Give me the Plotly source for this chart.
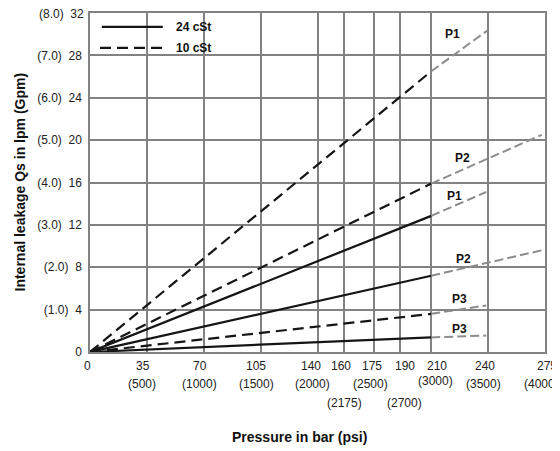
import numpy as np
import plotly.graph_objects as go

# ---- axis data ----
tick_bar = [0, 35, 70, 105, 140, 160, 175, 190, 210, 240, 275]
tick_pos = [0, 1, 2, 3, 4, 4.47, 5, 5.45, 6, 7, 8]          # non-linear scale of the chart
tick_psi = ["", "(500)", "(1000)", "(1500)", "(2000)", "(2175)", "(2500)", "(2700)",
            "(3000)", "(3500)", "(4000)"]
psi_row = [1, 1, 1, 1, 1, 2, 1, 2, 1, 1, 1]

y_lpm = [0, 4, 8, 12, 16, 20, 24, 28, 32]
y_gpm = ["", "(1.0)", "(2.0)", "(3.0)", "(4.0)", "(5.0)", "(6.0)", "(7.0)", "(8.0)"]

# ---- series (pressure bar, leakage lpm) ----
rated_p = [0, 210]
q_10_p1 = [0, 26.5]
q_10_p2 = [0, 15.9]
q_24_p1 = [0, 12.85]
q_24_p2 = [0, 7.2]
q_10_p3 = [0, 3.6]
q_24_p3 = [0, 1.38]

ext_10_p1_p, ext_10_p1_q = [210, 240], [26.5, 30.4]
ext_10_p2_p, ext_10_p2_q = [210, 273], [15.9, 20.5]
ext_24_p1_p, ext_24_p1_q = [210, 239], [12.85, 15.1]
ext_24_p2_p, ext_24_p2_q = [210, 273], [7.2, 9.6]
ext_10_p3_p, ext_10_p3_q = [210, 239], [3.6, 4.4]
ext_24_p3_p, ext_24_p3_q = [210, 239], [1.38, 1.55]

label_text = ["P1", "P2", "P1", "P2", "P3", "P3"]
label_p = [221, 226.5, 222, 227, 225, 225]
label_q = [30.0, 18.3, 14.7, 8.8, 5.0, 2.2]

# small horizontal nudges (px) of the x tick texts, as typeset in the original
bar_nudge = [-3, -4, -4, -5, -7, -3, -2, 5, 6, -3, 2]
psi_nudge = [0, -5, -4, -4, -5, 0, -4, 5, 4, -5, -4]


def pos(p):
    return np.interp(p, tick_bar, tick_pos)


BLACK = "#151515"
GRAY = "#8c8c8c"
GRID = "#828282"
FONT = "Liberation Sans, Arial, sans-serif"
TICKFONT = dict(family=FONT, size=12, color="#222")

fig = go.Figure()

main = [(q_10_p1, "10"), (q_10_p2, "10"), (q_24_p1, "24"),
        (q_24_p2, "24"), (q_10_p3, "10"), (q_24_p3, "24")]
for q, v in main:
    fig.add_trace(go.Scatter(
        x=pos(rated_p), y=q, mode="lines", showlegend=False, hoverinfo="skip",
        line=dict(color=BLACK, width=2.2, dash="11px,6px" if v == "10" else "solid")))

exts = [(ext_10_p1_p, ext_10_p1_q), (ext_10_p2_p, ext_10_p2_q), (ext_24_p1_p, ext_24_p1_q),
        (ext_24_p2_p, ext_24_p2_q), (ext_10_p3_p, ext_10_p3_q), (ext_24_p3_p, ext_24_p3_q)]
for p, q in exts:
    fig.add_trace(go.Scatter(
        x=pos(p), y=q, mode="lines", showlegend=False, hoverinfo="skip",
        line=dict(color=GRAY, width=2, dash="9px,4px")))

for t, p, q in zip(label_text, label_p, label_q):
    fig.add_annotation(x=float(pos(p)), y=q, text="<b>%s</b>" % t, showarrow=False,
                       font=dict(family=FONT, size=12, color="#111"))

# x tick texts: bar row and psi rows
for p, b, s, r, nb, ns in zip(tick_bar, tick_bar, tick_psi, psi_row, bar_nudge, psi_nudge):
    fig.add_annotation(x=float(pos(p)), xref="x", y=0, yref="paper",
                       xshift=nb, yshift=-14, yanchor="middle",
                       text=str(b), showarrow=False, font=TICKFONT)
    if s:
        ys = -32 if r == 1 else -51
        if s == "(3000)":
            ys = -29
        fig.add_annotation(x=float(pos(p)), xref="x", y=0, yref="paper",
                           xshift=ns, yshift=ys, yanchor="middle",
                           text=s, showarrow=False, font=TICKFONT)

# top y label drawn as annotation (tick label at the very top edge is dropped by plotly)
fig.add_annotation(xref="paper", yref="y", x=0, xshift=-4, y=y_lpm[-1], yshift=-1,
                   xanchor="right", yanchor="middle", showarrow=False,
                   text="%s  %d" % (y_gpm[-1], y_lpm[-1]), font=TICKFONT)

# custom legend box
fig.add_shape(type="rect", xref="paper", yref="paper", x0=0, x1=0.3187, y0=0.8446, y1=1,
              fillcolor="white", line=dict(width=0), layer="between")
fig.add_shape(type="line", xref="paper", yref="paper", x0=0.026, x1=0.160, y0=0.959, y1=0.959,
              line=dict(color=BLACK, width=2.2))
fig.add_shape(type="line", xref="paper", yref="paper", x0=0.022, x1=0.160, y0=0.897, y1=0.897,
              line=dict(color=BLACK, width=2.2, dash="11px,6px"))
fig.add_annotation(xref="paper", yref="paper", x=0.185, y=0.959, xanchor="left", yanchor="middle",
                   text="<b>24 cSt</b>", showarrow=False, font=dict(family=FONT, size=12, color="#111"))
fig.add_annotation(xref="paper", yref="paper", x=0.185, y=0.897, xanchor="left", yanchor="middle",
                   text="<b>10 cSt</b>", showarrow=False, font=dict(family=FONT, size=12, color="#111"))

# axis titles
fig.add_annotation(xref="paper", yref="paper", x=0, xshift=-71, y=0.5, textangle=-90,
                   text="<b>Internal leakage Qs in lpm (Gpm)</b>", showarrow=False,
                   xanchor="center", yanchor="middle",
                   font=dict(family=FONT, size=14, color="#111"))
fig.add_annotation(xref="paper", yref="paper", x=0.4615, y=0, yshift=-85,
                   text="<b>Pressure in bar (psi)</b>", showarrow=False,
                   xanchor="center", yanchor="middle",
                   font=dict(family=FONT, size=14, color="#111"))

# page has an 8px body margin: figure sized/offset so the plot sits where the original does
fig.update_layout(
    width=552, height=443,
    margin=dict(l=82, r=15, t=3, b=99),
    paper_bgcolor="white", plot_bgcolor="white",
    font=dict(family=FONT, size=12, color="#222"),
    xaxis=dict(range=[0, 8], tickvals=tick_pos, showticklabels=False,
               showgrid=True, gridcolor=GRID, gridwidth=1.5, zeroline=False,
               showline=True, linecolor=GRID, linewidth=1.5, mirror=True, ticks=""),
    yaxis=dict(range=[0, 32], tickvals=y_lpm,
               ticktext=[("%s  %d" % (g, v)) if g else "%d" % v
                         for g, v in zip(y_gpm[:-1], y_lpm[:-1])] + [""],
               showgrid=True, gridcolor=GRID, gridwidth=1.5, zeroline=False,
               showline=True, linecolor=GRID, linewidth=1.5, mirror=True,
               ticks="", ticklabelstandoff=4, tickfont=TICKFONT),
)

fig.write_html("out.html")
